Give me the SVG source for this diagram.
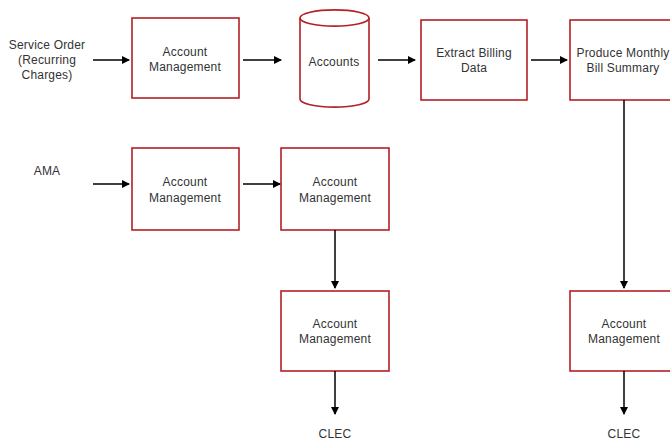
<svg xmlns="http://www.w3.org/2000/svg" width="670" height="443" viewBox="0 0 670 443">
<defs>
<marker id="ah" markerWidth="8" markerHeight="8" refX="7" refY="4" orient="auto" markerUnits="userSpaceOnUse">
<path d="M0,0 L8,4 L0,8 Z" fill="#000"/>
</marker>
<style>
.box{fill:#fff;stroke:#b52025;stroke-width:1.6}
.t{font-family:"Liberation Sans",Arial,sans-serif;font-size:12px;letter-spacing:0.2px;fill:#333;text-anchor:middle}
.c{stroke:#000;stroke-width:1.5;fill:none;marker-end:url(#ah)}
</style>
</defs>
<rect width="670" height="443" fill="#fff"/>
<g id="src1"><text class="t" x="47" y="49">Service Order</text><text class="t" x="47" y="64">(Recurring</text><text class="t" x="47" y="79">Charges)</text></g>
<g id="am1"><rect class="box" x="132" y="18" width="107" height="80"/><text class="t" x="185" y="56">Account</text><text class="t" x="185" y="71">Management</text></g>
<g id="accounts"><path class="box" d="M300,18 A34,8 0 0 1 369,18 L369,99 A34,8 0 0 1 300,99 Z"/><path d="M300,18 A34,8 0 0 0 369,18" fill="none" stroke="#b52025" stroke-width="1.6"/><text class="t" x="334" y="66">Accounts</text></g>
<g id="extract"><rect class="box" x="421" y="20" width="106" height="80"/><text class="t" x="474" y="57">Extract Billing</text><text class="t" x="474" y="72">Data</text></g>
<g id="produce"><rect class="box" x="570" y="20" width="107" height="80"/><text class="t" x="623" y="57">Produce Monthly</text><text class="t" x="623" y="72">Bill Summary</text></g>
<g id="src2"><text class="t" x="47" y="175">AMA</text></g>
<g id="am2"><rect class="box" x="132" y="148" width="107" height="82"/><text class="t" x="185" y="186">Account</text><text class="t" x="185" y="202">Management</text></g>
<g id="am3"><rect class="box" x="281" y="148" width="108" height="82"/><text class="t" x="335" y="186">Account</text><text class="t" x="335" y="202">Management</text></g>
<g id="am4"><rect class="box" x="281" y="291" width="108" height="80"/><text class="t" x="335" y="328">Account</text><text class="t" x="335" y="343">Management</text></g>
<g id="am5"><rect class="box" x="570" y="291" width="107" height="80"/><text class="t" x="624" y="328">Account</text><text class="t" x="624" y="343">Management</text></g>
<g id="clec1"><text class="t" x="335" y="438">CLEC</text></g>
<g id="clec2"><text class="t" x="624" y="438">CLEC</text></g>
<g id="connectors">
<line class="c" x1="93" y1="60" x2="129" y2="60"/>
<line class="c" x1="243" y1="60" x2="281" y2="60"/>
<line class="c" x1="378" y1="60" x2="415" y2="60"/>
<line class="c" x1="531" y1="60" x2="567" y2="60"/>
<line class="c" x1="93" y1="184" x2="129" y2="184"/>
<line class="c" x1="243" y1="184" x2="280" y2="184"/>
<line class="c" x1="335" y1="230" x2="335" y2="288"/>
<line class="c" x1="624" y1="100" x2="624" y2="288"/>
<line class="c" x1="335" y1="371" x2="335" y2="414"/>
<line class="c" x1="624" y1="371" x2="624" y2="414"/>
</g>
</svg>
